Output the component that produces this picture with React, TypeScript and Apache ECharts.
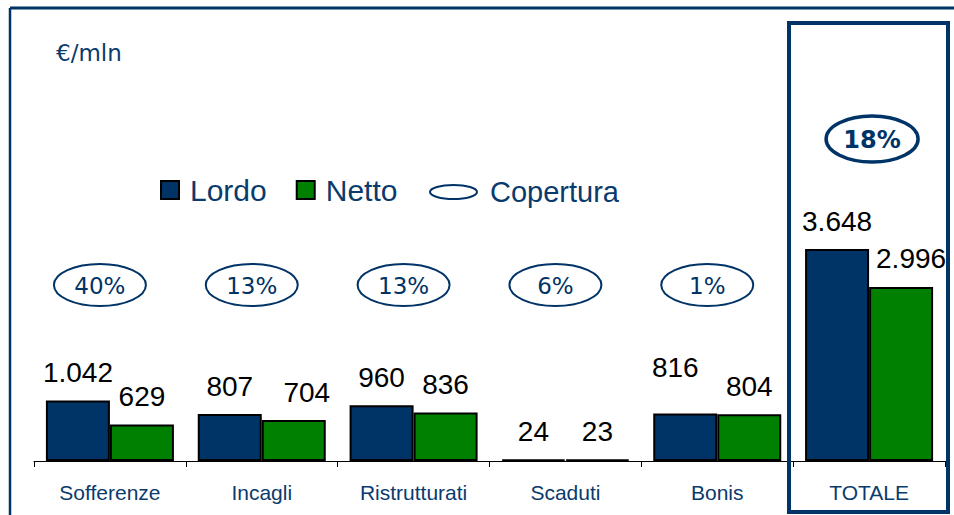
import React, { useEffect, useRef } from "react";
import * as echarts from "echarts";

const categories = ["Sofferenze", "Incagli", "Ristrutturati", "Scaduti", "Bonis", "TOTALE"];
const lordo = [1042, 807, 960, 24, 816, 3648];
const netto = [629, 704, 836, 23, 804, 2996];
const copertura = [40, 13, 13, 6, 1, 18];

const NAVY = "#003366";
const GREEN = "#008000";
const TEXT_NAVY = "#0B3A6C";

// label nudges (style only), by category index
const lordoLabelShift: Record<number, number[]> = { 4: [-10, -18] };
const nettoLabelShift: Record<number, number[]> = { 1: [13, 0], 5: [10, 0] };

const fmt = (v: number) => String(v).replace(/\B(?=(\d{3})+(?!\d))/g, ".");

export default function App() {
  const ref = useRef<HTMLDivElement>(null);
  useEffect(() => {
    if (!ref.current) return;
    const chart = echarts.init(ref.current, null, { renderer: "svg" });
    const labelBase = {
      show: true,
      position: "top",
      distance: 14,
      fontSize: 28,
      fontFamily: "Liberation Sans, Arial, sans-serif",
      color: "#000",
      formatter: (p: any) => fmt(p.value),
    };
    const mk = (arr: number[], shift: Record<number, number[]>) =>
      arr.map((v, i) => (shift[i] ? { value: v, label: { offset: shift[i] } } : v));

    chart.setOption({
      animation: false,
      title: {
        text: "€/mln",
        left: 56,
        top: 41,
        padding: 0,
        textStyle: { fontSize: 23, fontWeight: "normal", fontFamily: "DejaVu Sans, sans-serif", color: TEXT_NAVY },
      },
      legend: [
        {
          data: ["Lordo", "Netto"],
          left: 160,
          top: 175,
          padding: 0,
          itemWidth: 18,
          itemHeight: 18,
          itemGap: 29,
          icon: "rect",
          selectedMode: false,
          textStyle: {
            fontSize: 30,
            lineHeight: 30,
            fontFamily: "Liberation Sans, Arial, sans-serif",
            color: TEXT_NAVY,
            padding: [0, 0, 0, 6],
          },
        },
        {
          data: [
            {
              name: "Copertura",
              icon: "path://M0,7 A23.5,7 0 1,0 47,7 A23.5,7 0 1,0 0,7 Z",
              itemStyle: { color: "rgba(0,0,0,0)", borderColor: NAVY, borderWidth: 2 },
            },
          ],
          left: 429,
          top: 177,
          padding: 0,
          itemWidth: 47,
          itemHeight: 14,
          selectedMode: false,
          textStyle: {
            fontSize: 29,
            lineHeight: 30,
            fontFamily: "Liberation Sans, Arial, sans-serif",
            color: TEXT_NAVY,
            padding: [0, 0, 0, 8],
          },
        },
      ],
      grid: { left: 34, right: 9, top: 228.6, bottom: 54, containLabel: false },
      xAxis: {
        type: "category",
        data: categories,
        axisLine: { lineStyle: { color: "#000", width: 1 } },
        axisTick: { show: true, length: 6, lineStyle: { color: "#000" } },
        axisLabel: {
          margin: 21,
          fontSize: 21,
          fontFamily: "Liberation Sans, Arial, sans-serif",
          color: TEXT_NAVY,
        },
      },
      yAxis: { type: "value", min: 0, max: 4000, show: false, splitLine: { show: false } },
      series: [
        {
          name: "Lordo",
          type: "bar",
          data: mk(lordo, lordoLabelShift),
          barWidth: 64,
          barGap: "0%",
          itemStyle: { color: NAVY, borderColor: "#000", borderWidth: 2 },
          label: labelBase,
        },
        {
          name: "Netto",
          type: "bar",
          data: mk(netto, nettoLabelShift),
          barWidth: 64,
          barGap: "0%",
          itemStyle: { color: GREEN, borderColor: "#000", borderWidth: 2 },
          label: labelBase,
        },
        {
          name: "Copertura",
          type: "custom",
          data: copertura.map((v, i) => [i, v]),
          encode: { x: 0, y: 1 },
          clip: false,
          z: 5,
          itemStyle: { color: "rgba(0,0,0,0)", borderColor: NAVY },
          renderItem: (params: any, api: any) => {
            const idx = api.value(0);
            const isTotal = idx === categories.length - 1;
            const x = api.coord([idx, 0])[0];
            const cx = isTotal ? x + 3 : x - 10;
            const cy = isTotal ? 139 : 285;
            const rx = 46;
            const ry = isTotal ? 23 : 21;
            return {
              type: "group",
              children: [
                {
                  type: "ellipse",
                  shape: { cx, cy, rx, ry },
                  style: { fill: "#fff", stroke: NAVY, lineWidth: isTotal ? 3.5 : 2 },
                },
                {
                  type: "text",
                  x: cx,
                  y: cy + 1,
                  style: {
                    text: api.value(1) + "%",
                    fontSize: isTotal ? 24 : 23,
                    fontWeight: isTotal ? "bold" : "normal",
                    fontFamily: "DejaVu Sans, sans-serif",
                    fill: NAVY,
                    align: "center",
                    verticalAlign: "middle",
                  },
                },
              ],
            };
          },
        },
      ],
      graphic: [
        { type: "line", shape: { x1: 10, y1: 8, x2: 954, y2: 8 }, style: { stroke: NAVY, lineWidth: 3 } },
        { type: "line", shape: { x1: 10, y1: 8, x2: 10, y2: 515 }, style: { stroke: NAVY, lineWidth: 2.5 } },
        {
          type: "rect",
          shape: { x: 789, y: 23, width: 159, height: 489 },
          style: { fill: "none", stroke: NAVY, lineWidth: 4 },
          z: 10,
        },
      ],
    });
    return () => chart.dispose();
  }, []);
  return (
    <div
      ref={ref}
      style={{ position: "fixed", left: 0, top: 0, width: 954, height: 515, background: "#fff" }}
    />
  );
}
